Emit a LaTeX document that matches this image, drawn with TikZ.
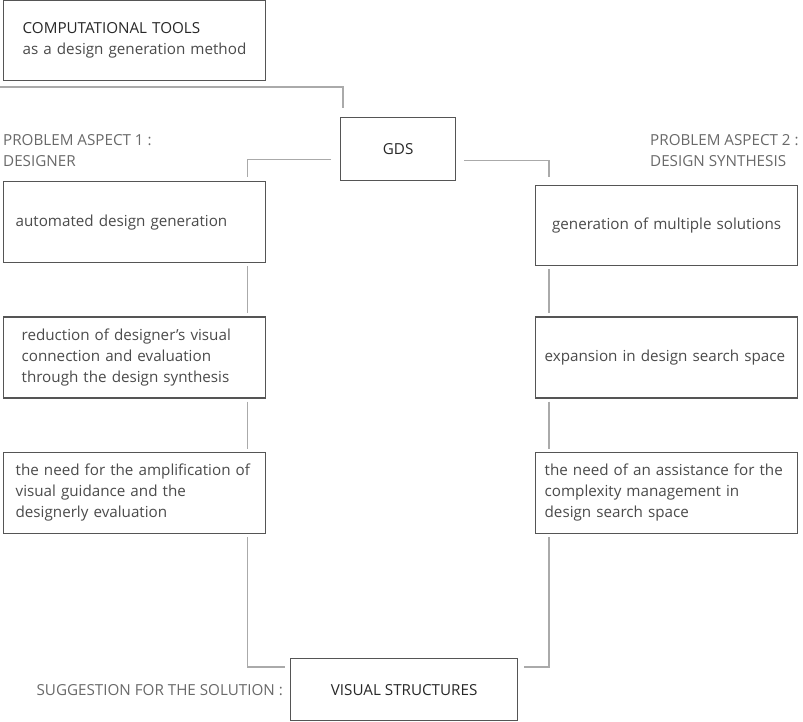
\documentclass[tikz,border=0pt]{standalone}
\usepackage{fontspec}
\setmainfont{Open Sans}
\usetikzlibrary{positioning}
\definecolor{gdsframe}{RGB}{85,85,85}
\definecolor{gdslink}{RGB}{170,170,170}
\definecolor{gdstext}{RGB}{75,75,75}
\definecolor{gdsdark}{RGB}{40,40,40}
\definecolor{gdslabel}{RGB}{105,105,105}
\tikzset{
    box/.style={draw=gdsframe, line width=1.3pt, fill=white, text=gdstext, align=left,
                font=\fontsize{15.2}{21}\selectfont, minimum height=81pt, inner ysep=0pt},
    leftbox/.style={box, inner xsep=12pt, text width=238pt},
    rightbox/.style={box, inner xsep=9pt, text width=244pt},
    keybox/.style={box, text=gdsdark, align=center},
    link/.style={draw=gdslink, line width=1.3pt},
    lbl/.style={text=gdslabel, font=\fontsize{15.2}{21}\selectfont, align=left, inner sep=0pt},
}

\begin{document}
\begin{tikzpicture}[x=1pt, y=-1pt, node distance=53pt and 20pt]
    \useasboundingbox (0,0) rectangle (803,722);
    % top and centre
    \node[box, anchor=north west, minimum height=80pt, inner xsep=19pt, text width=224pt] (tools) at (3,0)
        {{\color{gdsdark}COMPUTATIONAL TOOLS}\\as a design generation method};
    \node[keybox, anchor=north west, minimum width=115pt, minimum height=63pt] (gds) at (340,117) {GDS};
    % problem aspect 1
    \node[lbl, anchor=north west] (asp1) at (3,134) {PROBLEM ASPECT 1 :\\DESIGNER};
    \node[leftbox, anchor=north west] (auto) at (3,181) {automated design generation};
    \node[leftbox, below=53pt of auto, inner xsep=18pt, text width=226pt] (reduce)
        {reduction of designer's visual\\connection and evaluation\\through the design synthesis};
    \node[leftbox, below=53pt of reduce] (amplify)
        {the need for the amplification of\\visual guidance and the\\designerly evaluation};
    % problem aspect 2
    \node[lbl, anchor=north west] (asp2) at (650,134) {PROBLEM ASPECT 2 :\\DESIGN SYNTHESIS};
    \node[rightbox, anchor=north west, minimum height=80pt, align=center] (multi) at (535,185) {generation of multiple solutions};
    \node[rightbox, below=50pt of multi] (expand) {expansion in design search space};
    \node[rightbox, below=53pt of expand] (assist)
        {the need of an assistance for the\\complexity management in\\design search space};
    % solution
    \node[keybox, anchor=north west, minimum width=227pt, minimum height=62pt] (vis) at (290,658) {VISUAL STRUCTURES};
    \node[lbl, left=7pt of vis] (sugg) {SUGGESTION FOR THE SOLUTION :};
    % connectors
    \coordinate (edge) at (0,87);
    \draw[link] (edge) -| ([xshift=3pt,yshift=9pt]gds.north west);
    \draw[link] ([xshift=-9pt,yshift=-10.5pt]gds.west) -| ([xshift=-19pt,yshift=4pt]auto.north east);
    \draw[link] ([xshift=8pt,yshift=-11.5pt]gds.east) -| ([xshift=14pt,yshift=8pt]multi.north west);
    \draw[link] ([xshift=-19pt,yshift=-3pt]auto.south east) -- ([xshift=-19pt,yshift=3pt]reduce.north east);
    \draw[link] ([xshift=-19pt,yshift=-3pt]reduce.south east) -- ([xshift=-19pt,yshift=3pt]amplify.north east);
    \draw[link] ([xshift=-19pt,yshift=-3pt]amplify.south east) |- ([xshift=-5pt,yshift=-9pt]vis.north west);
    \draw[link] ([xshift=14pt,yshift=-3pt]multi.south west) -- ([xshift=14pt,yshift=3pt]expand.north west);
    \draw[link] ([xshift=14pt,yshift=-3pt]expand.south west) -- ([xshift=14pt,yshift=3pt]assist.north west);
    \draw[link] ([xshift=14pt,yshift=-3pt]assist.south west) |- ([xshift=6pt,yshift=-9pt]vis.north east);
\end{tikzpicture}
\end{document}
